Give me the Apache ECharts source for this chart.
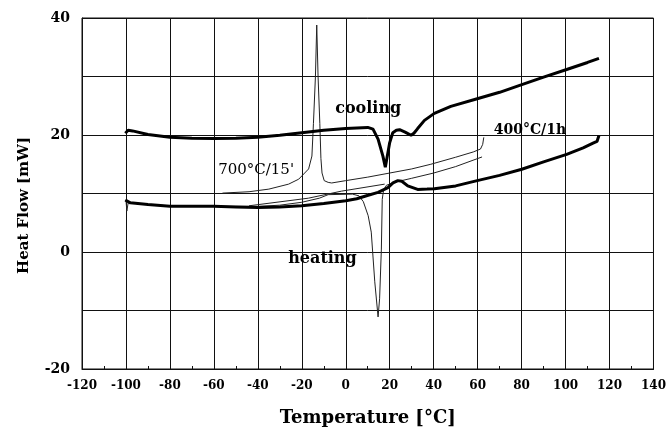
<!DOCTYPE html>
<html>
<head>
<meta charset="utf-8">
<script src="https://cdn.jsdelivr.net/npm/echarts@6/dist/echarts.min.js"></script>
<style>
  html, body { margin: 0; padding: 0; background: #fff; }
  #main { width: 669px; height: 432px; }
</style>
</head>
<body>
<div id="main"></div>
<script>
// DSC curves, [temperature °C, heat flow mW]
var cooling400 = [[-100.3,20.3],[-99,20.8],[-97,20.7],[-90,20.1],[-80,19.6],[-70,19.45],[-60,19.4],[-50,19.45],[-40,19.6],[-30,19.95],[-20,20.4],[-10,20.8],[0,21.1],[10,21.3],[12.4,21.0],[14.7,19.3],[16.9,16.4],[18,14.5],[18.7,14.7],[20,18.7],[21.4,20.4],[23,20.8],[24.5,20.9],[27,20.5],[29.7,19.95],[31,20.3],[32.7,21.1],[35.8,22.5],[40.3,23.7],[47.8,24.9],[59.8,26.2],[70,27.3],[80.1,28.6],[90,29.9],[100.5,31.2],[110,32.4],[115.2,33.1]];
var heating400 = [[-100.3,8.9],[-98,8.4],[-90,8.1],[-80,7.8],[-70,7.8],[-60,7.8],[-50,7.7],[-40,7.6],[-30,7.7],[-20,7.9],[-10,8.3],[0,8.75],[5,9.1],[10.2,9.7],[14.7,10.2],[19.2,11.0],[21.5,11.8],[23.7,12.2],[25.5,12.1],[28.2,11.3],[32.7,10.7],[37,10.75],[40.3,10.8],[50,11.3],[59.8,12.2],[70,13.1],[80.1,14.15],[90,15.4],[100.5,16.7],[108,17.8],[112.5,18.6],[114.3,18.9],[115.2,19.9]];
var cooling700 = [[-56.1,10.07],[-44,10.3],[-35,10.75],[-26,11.6],[-21.4,12.45],[-16.9,14.2],[-15.4,16.4],[-14.7,22],[-13.8,30],[-13.2,38.8],[-12.6,30],[-11.8,22],[-11.3,16],[-10.8,13.5],[-9.8,12.2],[-8,11.9],[-6.4,11.8],[0,12.2],[10,12.8],[20,13.5],[30,14.2],[38.7,15.0],[50,16.2],[58,17.1],[61.3,17.6],[62.3,18.4],[62.8,19.6]];
var heating700 = [[-100,8.9],[-99.6,7.0],[-99,8.4],[-90,8.1],[-80,7.9],[-60,7.8],[-40,7.8],[-30,8.0],[-20,8.5],[-12,9.2],[-8,9.8],[3,9.9],[6,9.6],[8,8.6],[10.2,6.2],[11.6,3.4],[13.2,-5.1],[14.7,-11.1],[15.4,-8],[16.2,0.5],[16.6,9],[17.2,10.6],[18.5,11.4],[22,11.9],[30,12.6],[40,13.5],[50,14.6],[62,16.25]];
var baseline700 = [[-44,7.9],[-17,9.2],[-2,10.4],[17.7,11.6]];

// annotations: [text, temperature, heat flow, font]
var notes = [
  ['cooling', 10.2, 24.4, 'bold 16px "DejaVu Serif"'],
  ['heating', -10.6, -1.2, 'bold 16px "DejaVu Serif"'],
  ["700°C/15'", -40.8, 14.0, '15px "DejaVu Serif"'],
  ['400°C/1h', 83.8, 20.8, 'bold 14px "DejaVu Serif"']
];

var font = 'DejaVu Serif';
var chart = echarts.init(document.getElementById('main'));

function curve(data, width, color) {
  return {
    type: 'line',
    data: data,
    symbol: 'none',
    lineStyle: { width: width, color: color },
    itemStyle: { color: color }
  };
}

var option = {
  backgroundColor: '#fff',
  animation: false,
  grid: { left: 82, right: 11, top: 18, bottom: 58, show: true, borderColor: '#111', borderWidth: 1 },
  xAxis: {
    type: 'value', min: -120, max: 140, interval: 20,
    name: 'Temperature [°C]', nameLocation: 'middle', nameGap: 40,
    nameTextStyle: { fontFamily: font, fontWeight: 'bold', fontSize: 18, color: '#000' },
    axisLine: { onZero: false, lineStyle: { color: '#111' } },
    axisTick: { inside: true, length: 4, lineStyle: { color: '#111' } },
    minorTick: { show: true, splitNumber: 2, length: 3, lineStyle: { color: '#111' } },
    axisLabel: { fontFamily: font, fontWeight: 'bold', fontSize: 12, color: '#000', margin: 11 },
    splitLine: { lineStyle: { color: '#111', width: 1 } }
  },
  yAxis: {
    type: 'value', min: -20, max: 40, interval: 10,
    name: 'Heat Flow [mW]', nameLocation: 'middle', nameGap: 50,
    nameTextStyle: { fontFamily: font, fontWeight: 'bold', fontSize: 15, color: '#000', padding: [0, 24, 0, 0] },
    axisLine: { onZero: false, lineStyle: { color: '#111' } },
    axisTick: { show: false },
    axisLabel: {
      fontFamily: font, fontWeight: 'bold', fontSize: 14, color: '#000', margin: 12,
      formatter: function (v) { return v % 20 === 0 ? v : ''; }
    },
    splitLine: { lineStyle: { color: '#111', width: 1 } }
  },
  series: [
    curve(baseline700, 1, '#222'),
    curve(heating700, 1, '#222'),
    curve(cooling700, 1, '#222'),
    curve(heating400, 3, '#000'),
    curve(cooling400, 3, '#000')
  ]
};
chart.setOption(option);

var texts = notes.map(function (n) {
  var p = chart.convertToPixel({ gridIndex: 0 }, [n[1], n[2]]);
  return {
    type: 'text', x: p[0], y: p[1], z: 100,
    style: { text: n[0], font: n[3], fill: '#000', align: 'center', verticalAlign: 'middle' }
  };
});
chart.setOption({ graphic: texts });
</script>
</body>
</html>
